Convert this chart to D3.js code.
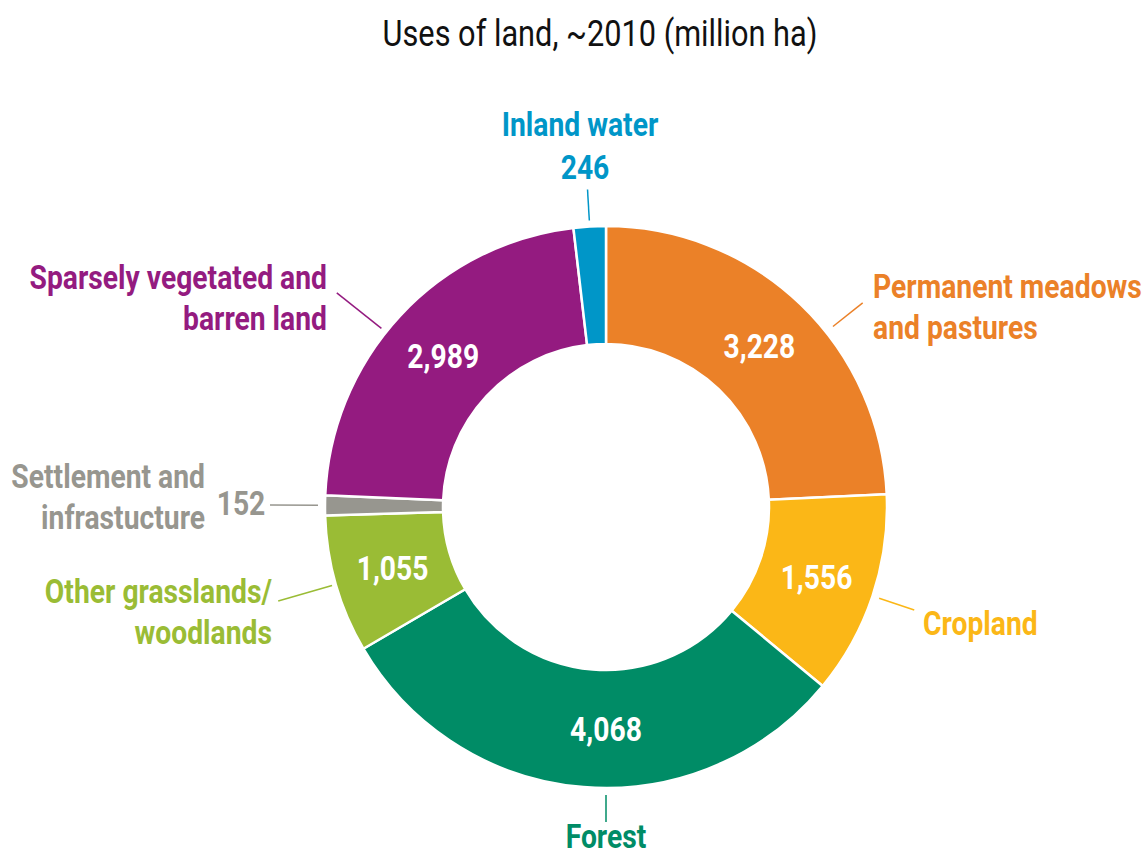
<!DOCTYPE html>
<html>
<head>
<meta charset="utf-8">
<script src="https://cdn.jsdelivr.net/npm/d3@7"></script>
<style>
  html, body { margin: 0; padding: 0; background: #fff; }
  svg text { font-family: Roboto, "Noto Sans", sans-serif; }
</style>
</head>
<body>
<svg id="chart" width="1144" height="856"></svg>
<script>
// Land use categories, clockwise from 12 o'clock
const categories = [
  "Permanent meadows and pastures",
  "Cropland",
  "Forest",
  "Other grasslands/ woodlands",
  "Settlement and infrastucture",
  "Sparsely vegetated and barren land",
  "Inland water"
];
const values = [3228, 1556, 4068, 1055, 152, 2989, 246];
const colors = ["#eb8128", "#fbb717", "#008c66", "#9abc35", "#97968f", "#941b80", "#0096c8"];
// Label text lines per category
const labelLines = [
  ["Permanent meadows", "and pastures"],
  ["Cropland"],
  ["Forest"],
  ["Other grasslands/", "woodlands"],
  ["Settlement and", "infrastucture"],
  ["Sparsely vegetated and", "barren land"],
  ["Inland water"]
];
const title = "Uses of land, ~2010 (million ha)";

const W = 1144, H = 856;
const cx = 606, cy = 507;
const outerR = 281, innerR = 163;

const svg = d3.select("#chart");
const fmt = d3.format(",");

// Roboto squeezed horizontally to a condensed cut
function condenseFactor(sample, size, weight, targetWidth) {
  const t = svg.append("text").attr("font-size", size).attr("font-weight", weight).text(sample);
  const w = t.node().getComputedTextLength();
  t.remove();
  return targetWidth / w;
}
const boldScale = condenseFactor("Permanent meadows", 33, "bold", 269);
const titleScale = condenseFactor(title, 37, "normal", 435);

// place a text element at (x, y) with horizontal condensing
function placed(sel, x, y, s) {
  return sel.attr("transform", `translate(${x},${y}) scale(${s},1)`).attr("x", 0).attr("y", 0);
}

placed(svg.append("text"), 600, 46, titleScale)
  .attr("text-anchor", "middle")
  .attr("font-size", 37)
  .attr("fill", "#111")
  .text(title);

const pie = d3.pie().sort(null).value(d => d.value);
const data = categories.map((c, i) => ({ name: c, value: values[i], color: colors[i], lines: labelLines[i], i }));
const arcs = pie(data);
const arc = d3.arc().innerRadius(innerR).outerRadius(outerR);

const g = svg.append("g").attr("transform", `translate(${cx},${cy})`);

g.selectAll("path.slice")
  .data(arcs)
  .join("path")
  .attr("class", "slice")
  .attr("d", arc)
  .attr("fill", d => d.data.color)
  .attr("stroke", "#fff")
  .attr("stroke-width", 2.5)
  .attr("stroke-linejoin", "round");

// polar helper: angle measured clockwise from north
const polar = (a, r) => [r * Math.sin(a), -r * Math.cos(a)];
const deg = Math.PI / 180;

// Callout direction for each slice (degrees); slice mid-angle used when null
const calloutAngle = [51.5, null, 180, null, null, 308.5, null];
const calloutR = [[290, 328], [288, 325], [288, 315], [285, 341], [288, 336], [287, 344], [287, 318]];
const angleOf = d => calloutAngle[d.data.i] != null ? calloutAngle[d.data.i] * deg : (d.startAngle + d.endAngle) / 2;

// values inside the ring
const midR = (innerR + outerR) / 2;
const valAngle = d => d.data.i === 2 ? 180 * deg : (d.startAngle + d.endAngle) / 2;
g.selectAll("text.val")
  .data(arcs.filter(d => d.data.value > 500))
  .join("text")
  .attr("class", "val")
  .each(function (d) {
    const [x, y] = polar(valAngle(d), midR);
    placed(d3.select(this), x, y, boldScale);
  })
  .attr("dy", "0.36em")
  .attr("text-anchor", "middle")
  .attr("font-size", 33)
  .attr("font-weight", "bold")
  .attr("fill", "#fff")
  .text(d => fmt(d.data.value));

// callout lines
g.selectAll("line.callout")
  .data(arcs)
  .join("line")
  .attr("class", "callout")
  .attr("x1", d => polar(angleOf(d), calloutR[d.data.i][0])[0])
  .attr("y1", d => polar(angleOf(d), calloutR[d.data.i][0])[1])
  .attr("x2", d => polar(angleOf(d), calloutR[d.data.i][1])[0])
  .attr("y2", d => polar(angleOf(d), calloutR[d.data.i][1])[1])
  .attr("stroke", d => d.data.color)
  .attr("stroke-width", 1.5);

// Category labels: anchor point, alignment, baseline of first line
const labelPos = [
  { x: 873, y: 298, anchor: "start" },
  { x: 923, y: 635, anchor: "start" },
  { x: 606, y: 848, anchor: "middle" },
  { x: 272, y: 603, anchor: "end" },
  { x: 205, y: 488, anchor: "end" },
  { x: 327, y: 289, anchor: "end" },
  { x: 580, y: 136, anchor: "middle" }
];
const lineGap = 41;

const labels = svg.selectAll("text.cat")
  .data(data)
  .join("text")
  .attr("class", "cat")
  .each(function (d) { placed(d3.select(this), labelPos[d.i].x, labelPos[d.i].y, boldScale); })
  .attr("text-anchor", d => labelPos[d.i].anchor)
  .attr("font-size", 33)
  .attr("font-weight", "bold")
  .attr("fill", d => d.color);

labels.selectAll("tspan")
  .data(d => d.lines.map((l, k) => ({ l, k })))
  .join("tspan")
  .attr("x", 0)
  .attr("dy", t => t.k === 0 ? 0 : lineGap)
  .text(t => t.l);

// small slices carry their value outside the ring
const smallValuePos = { 4: { x: 241, y: 515 }, 6: { x: 585, y: 179 } };
svg.selectAll("text.smallval")
  .data(data.filter(d => smallValuePos[d.i]))
  .join("text")
  .attr("class", "smallval")
  .each(function (d) { placed(d3.select(this), smallValuePos[d.i].x, smallValuePos[d.i].y, boldScale); })
  .attr("text-anchor", "middle")
  .attr("font-size", 33)
  .attr("font-weight", "bold")
  .attr("fill", d => d.color)
  .text(d => fmt(d.value));
</script>
</body>
</html>
